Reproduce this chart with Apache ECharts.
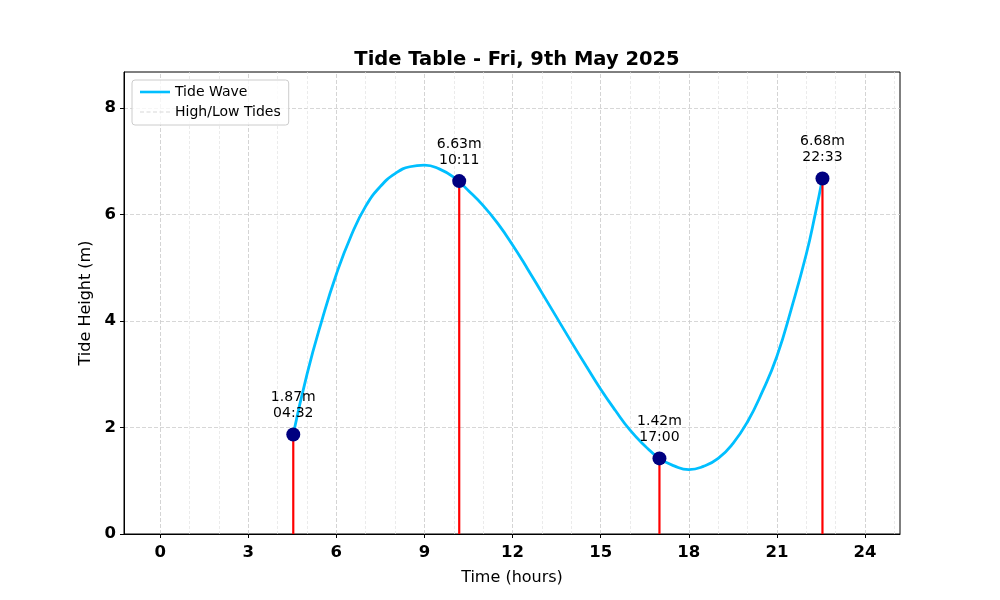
<!DOCTYPE html>
<html>
<head>
<meta charset="utf-8">
<script src="https://cdn.jsdelivr.net/npm/echarts@6/dist/echarts.min.js"></script>
<style>
  html, body { margin: 0; padding: 0; background: #fff; }
  #chart { width: 1000px; height: 600px; }
</style>
</head>
<body>
<div id="chart"></div>
<script>
// tide curve (hours, metres)
const curveHours = [4.53, 5.0, 5.5, 6.0, 6.5, 7.0, 7.5, 8.0, 8.5, 9.0, 9.5, 10.0, 10.5, 11.0, 11.5, 12.0, 12.5, 13.0, 13.5, 14.0, 14.5, 15.0, 15.5, 16.0, 16.5, 17.0, 17.5, 18.0, 18.5, 19.0, 19.5, 20.0, 20.5, 21.0, 21.5, 22.0, 22.3, 22.55];
const curveHeights = [1.87, 3.0, 4.0, 4.88, 5.6, 6.16, 6.53, 6.77, 6.9, 6.93, 6.86, 6.7, 6.45, 6.17, 5.83, 5.43, 4.99, 4.53, 4.07, 3.61, 3.16, 2.72, 2.32, 1.95, 1.66, 1.42, 1.28, 1.21, 1.27, 1.42, 1.7, 2.11, 2.67, 3.34, 4.25, 5.26, 6.0, 6.68];

// high / low tides
const tideHours = [4.533, 10.183, 17.0, 22.55];
const tideHeights = [1.87, 6.63, 1.42, 6.68];
const tideTimes = ['04:32', '10:11', '17:00', '22:33'];

// axis ticks
const xTicks = [0, 3, 6, 9, 12, 15, 18, 21, 24];
const xMinorTicks = [0, 1, 2, 3, 4, 5, 6, 7, 8, 9, 10, 11, 12, 13, 14, 15, 16, 17, 18, 19, 20, 21, 22, 23, 24, 25];
const yTicks = [0, 2, 4, 6, 8];

const FONT = 'DejaVu Sans';

const chart = echarts.init(document.getElementById('chart'), null, { renderer: 'canvas' });

const gridLines = xMinorTicks.map(h => ({
  xAxis: h,
  lineStyle: xTicks.includes(h)
    ? { color: '#cfcfcf', type: [4, 2], width: 0.9 }
    : { color: '#e2e2e2', type: [3, 2], width: 0.7 }
}));

// legend icons: a plain line and a faint dashed line
const lineIcon = 'path://M0,0 L30,0 L30,2.6 L0,2.6 Z';
const dashIcon = 'path://M0,0h4v1h-4z M6.5,0h4v1h-4z M13,0h4v1h-4z M19.5,0h4v1h-4z M26,0h4v1h-4z';

const option = {
  animation: false,
  textStyle: { fontFamily: FONT },
  title: {
    text: 'Tide Table - Fri, 9th May 2025',
    left: 512,
    top: 45,
    textAlign: 'center',
    textStyle: { fontFamily: FONT, fontSize: 19.5, fontWeight: 'bold', color: '#000' }
  },
  legend: {
    data: [
      { name: 'Tide Wave', icon: lineIcon, itemStyle: { color: '#00bfff' } },
      { name: 'High/Low Tides', icon: dashIcon, itemStyle: { color: '#d8d8d8' } }
    ],
    orient: 'vertical',
    left: 132,
    top: 80,
    itemWidth: 30,
    itemHeight: 14,
    itemGap: 6,
    symbolKeepAspect: true,
    padding: [5, 8, 6, 8],
    backgroundColor: 'rgba(255,255,255,0.8)',
    borderColor: '#cccccc',
    borderWidth: 1,
    borderRadius: 3,
    textStyle: { fontFamily: FONT, fontSize: 14, color: '#000' }
  },
  grid: {
    left: 124, right: 100, top: 72, bottom: 66,
    show: true, borderColor: '#000', borderWidth: 1
  },
  xAxis: {
    type: 'value',
    min: -1.23,
    max: 25.19,
    name: 'Time (hours)',
    nameLocation: 'middle',
    nameGap: 36,
    nameTextStyle: { fontFamily: FONT, fontSize: 16, color: '#000' },
    axisLine: { onZero: false, lineStyle: { color: '#000', width: 1 } },
    axisTick: { show: true, inside: false, length: 4, customValues: xTicks, lineStyle: { color: '#000' } },
    axisLabel: { customValues: xTicks, margin: 10, fontFamily: FONT, fontSize: 16.5, fontWeight: 'bold', color: '#000' },
    splitLine: { show: false }
  },
  yAxis: {
    type: 'value',
    min: 0,
    max: 8.68,
    name: 'Tide Height (m)',
    nameLocation: 'middle',
    nameGap: 25,
    nameTextStyle: { fontFamily: FONT, fontSize: 16, color: '#000' },
    axisLine: { show: true, onZero: false, lineStyle: { color: '#000', width: 1 } },
    axisTick: { show: true, inside: false, length: 4, customValues: yTicks, lineStyle: { color: '#000' } },
    axisLabel: { customValues: yTicks, margin: 8, fontFamily: FONT, fontSize: 16.5, fontWeight: 'bold', color: '#000' },
    splitLine: { show: true, lineStyle: { color: '#d3d3d3', type: [4, 2], width: 0.9 } }
  },
  series: [
    {
      name: 'grid',
      type: 'line',
      data: [],
      silent: true,
      z: 0,
      markLine: {
        silent: true,
        z: 0,
        symbol: ['none', 'none'],
        label: { show: false },
        data: gridLines
      }
    },
    {
      name: 'Tide Wave',
      type: 'line',
      smooth: 0.5,
      showSymbol: false,
      symbol: 'none',
      data: curveHours.map((h, i) => [h, curveHeights[i]]),
      lineStyle: { color: '#00bfff', width: 2.8 },
      itemStyle: { color: '#00bfff' },
      z: 2
    },
    {
      name: 'High/Low Tides',
      type: 'line',
      data: [],
      symbol: 'none',
      lineStyle: { color: '#dddddd', type: [3, 2], width: 1 },
      itemStyle: { color: '#dddddd' }
    },
    {
      name: 'stems',
      type: 'bar',
      barWidth: 2.2,
      data: tideHours.map((h, i) => [h, tideHeights[i]]),
      itemStyle: { color: '#ff0000' },
      z: 3
    },
    {
      name: 'tides',
      type: 'scatter',
      symbolSize: 14,
      data: tideHours.map((h, i) => [h, tideHeights[i]]),
      itemStyle: { color: '#000080', opacity: 1 },
      label: {
        show: true,
        position: 'top',
        distance: 6,
        fontFamily: FONT,
        fontSize: 14,
        lineHeight: 16,
        color: '#000',
        align: 'center',
        formatter: p => tideHeights[p.dataIndex].toFixed(2) + 'm\n' + tideTimes[p.dataIndex]
      },
      z: 4
    }
  ]
};

chart.setOption(option);
window.addEventListener('resize', () => chart.resize());
</script>
</body>
</html>
